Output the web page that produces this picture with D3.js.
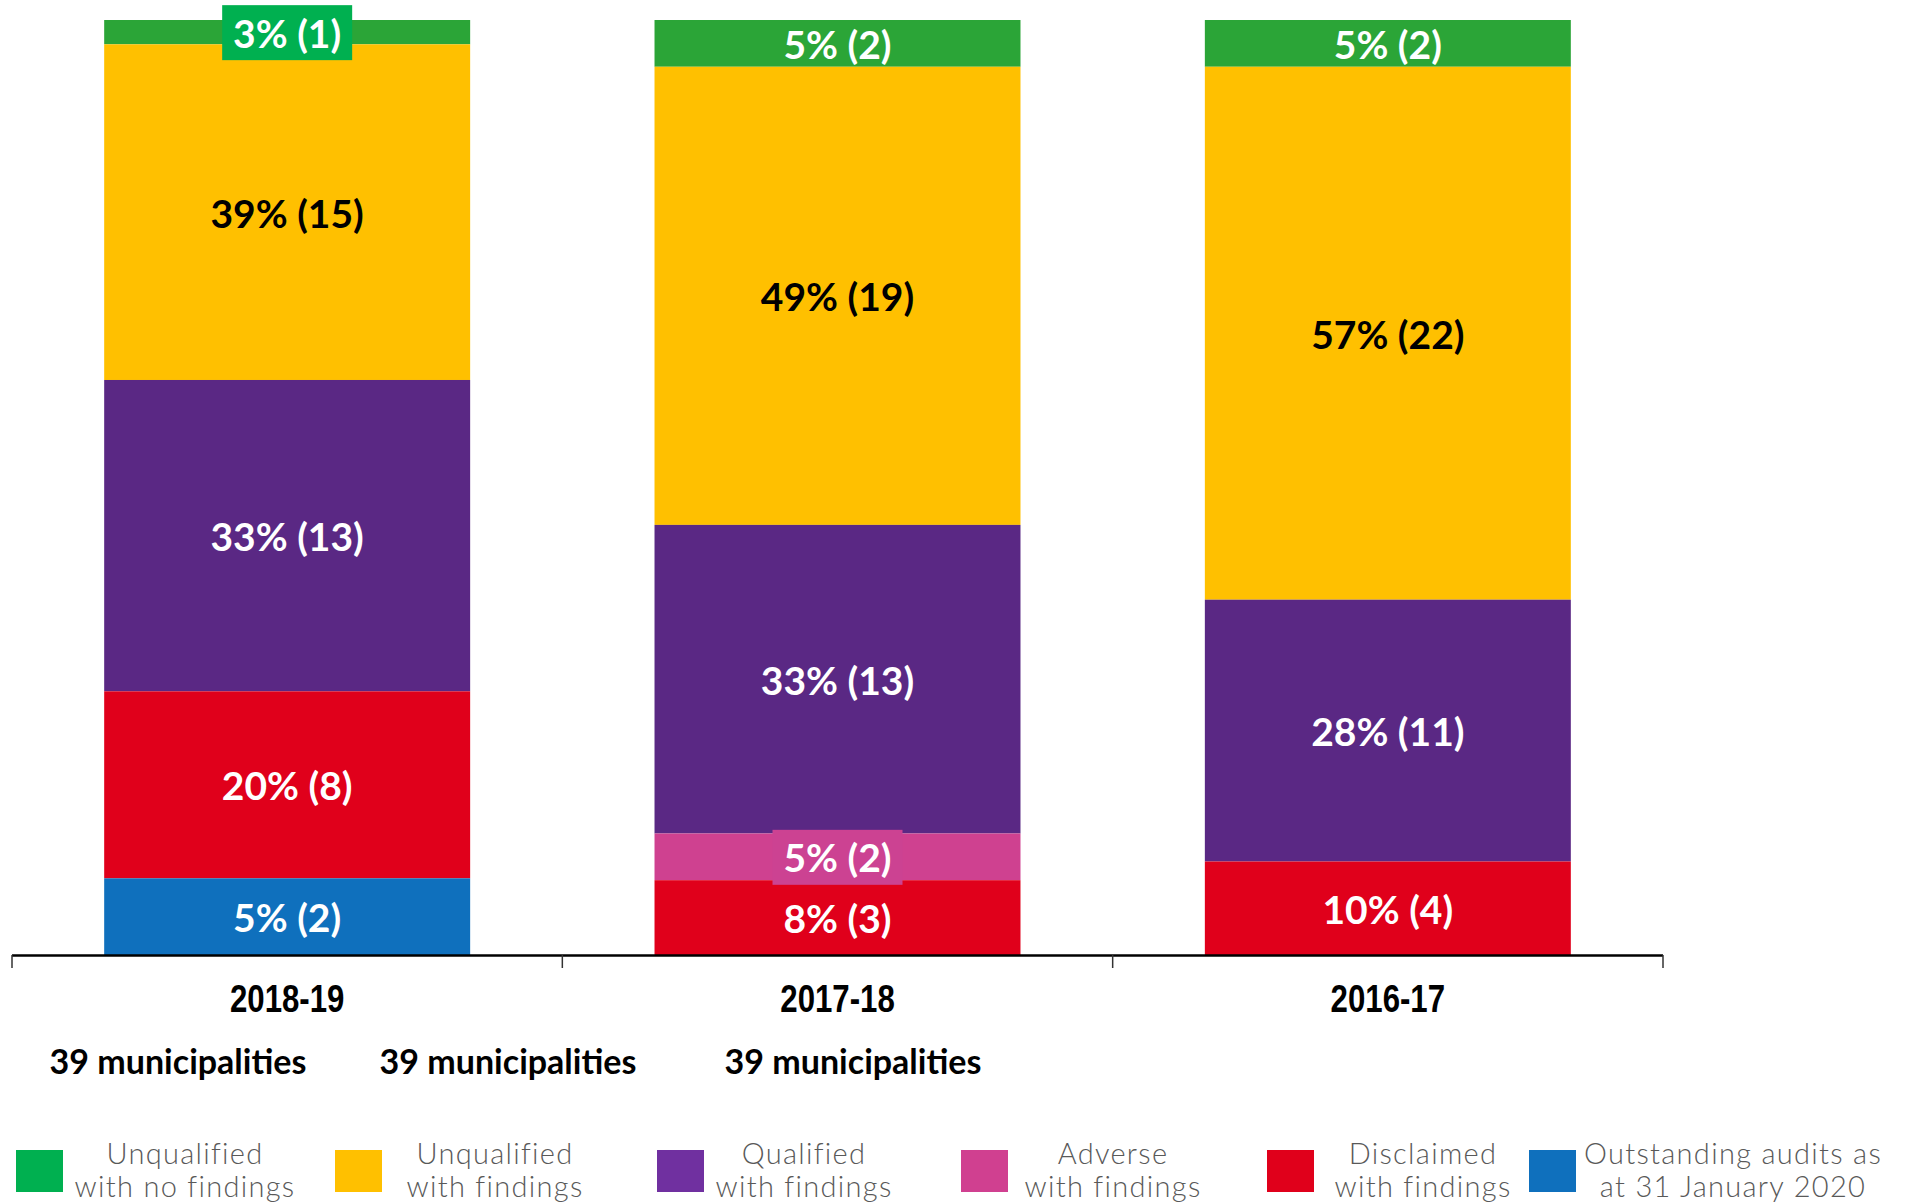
<!DOCTYPE html>
<html>
<head>
<meta charset="utf-8">
<script src="https://cdn.jsdelivr.net/npm/d3@7"></script>
<style>
body{margin:0;background:#fff;}
svg{display:block;}
</style>
</head>
<body>
<svg id="chart" width="1910" height="1204"></svg>
<script>
// data
var years = ["2018-19","2017-18","2016-17"];
var outcomes = ["Unqualified with no findings","Unqualified with findings","Qualified with findings","Adverse with findings","Disclaimed with findings","Outstanding audits as at 31 January 2020"];
var legendLines = [["Unqualified","with no findings"],["Unqualified","with findings"],["Qualified","with findings"],["Adverse","with findings"],["Disclaimed","with findings"],["Outstanding audits as","at 31 January 2020"]];
// share of bar height (%) per outcome, one array per year
var share1819 = [2.6, 35.9, 33.3, 0, 20.0, 8.2];
var share1718 = [5, 49, 33, 5, 8, 0];
var share1617 = [5, 57, 28, 0, 10, 0];
var label1819 = ["3% (1)","39% (15)","33% (13)","","20% (8)","5% (2)"];
var label1718 = ["5% (2)","49% (19)","33% (13)","5% (2)","8% (3)",""];
var label1617 = ["5% (2)","57% (22)","28% (11)","","10% (4)",""];
var municipalities = ["39 municipalities","39 municipalities","39 municipalities"];
// labels that sit on a small box
var boxed = [["2018-19",0],["2017-18",3]];

var barColors = ["#2ba537","#ffc000","#5a2884","#cf4190","#e0001b","#0f70bd"];
var keyColors = ["#00b050","#ffc000","#7030a0","#d04090","#e0001b","#0f70bd"];
var boxColors = ["#00b050","#ffc000","#5a2884","#cc4292","#e0001b","#0f70bd"];

var svg = d3.select("#chart");
var shares = [share1819, share1718, share1617];
var labels = [label1819, label1718, label1617];

var rows = years.map(function(y,i){
  var r = {year:y};
  outcomes.forEach(function(o,j){ r[o] = shares[i][j]; });
  return r;
});
// first outcome sits on top, last one at the bottom
var stack = d3.stack().keys(outcomes).order(d3.stackOrderReverse)(rows);

var x = d3.scaleBand().domain(years).range([12,1663]).paddingInner(0.335).paddingOuter(0.1675);
var y = d3.scaleLinear().domain([0,100]).range([955,20]);

var layer = svg.selectAll("g.layer").data(stack).enter()
  .append("g").attr("class","layer")
  .attr("fill",function(d){return barColors[outcomes.indexOf(d.key)];});

layer.selectAll("rect").data(function(d){return d;}).enter()
  .append("rect")
  .attr("x",function(d){return x(d.data.year);})
  .attr("width",x.bandwidth())
  .attr("y",function(d){return y(d[1]);})
  .attr("height",function(d){return y(d[0])-y(d[1]);});

// labels
var g = svg.append("g");
stack.forEach(function(s){
  var j = outcomes.indexOf(s.key);
  s.forEach(function(d,i){
    var txt = labels[i][j];
    if(!txt) return;
    var cx = x(d.data.year)+x.bandwidth()/2;
    var cy = (y(d[0])+y(d[1]))/2;
    var isBoxed = boxed.some(function(b){return b[0]==d.data.year && b[1]==j;});
    if(isBoxed){
      g.append("rect").attr("x",cx-65).attr("y",cy-27).attr("width",130).attr("height",55)
        .attr("fill",boxColors[j]);
    }
    g.append("text").attr("x",cx).attr("y",cy).attr("dy","0.4em")
      .attr("text-anchor","middle")
      .style("font-family","Lato, sans-serif").style("font-weight","bold")
      .style("font-size","39px")
      .attr("fill", j==1 ? "#000" : "#fff")
      .text(txt);
  });
});

// axis: line with ticks between categories
var step = x.step(), half = step*x.paddingInner()/2;
var bounds = years.map(function(d){return x(d)-half;});
bounds.push(x(years[years.length-1])+x.bandwidth()+half);
svg.append("line").attr("x1",bounds[0]).attr("x2",bounds[bounds.length-1])
  .attr("y1",955.5).attr("y2",955.5).attr("stroke","#000").attr("stroke-width",2.5);
svg.selectAll("line.tick").data(bounds).enter().append("line").attr("class","tick")
  .attr("x1",function(d){return d;}).attr("x2",function(d){return d;})
  .attr("y1",955).attr("y2",968).attr("stroke","#333").attr("stroke-width",1.5);

svg.selectAll("text.year").data(years).enter().append("text").attr("class","year")
  .attr("transform",function(d){return "translate("+(x(d)+x.bandwidth()/2)+",1012) scale(0.8,1)";})
  .attr("text-anchor","middle")
  .style("font-family","'Liberation Sans', Arial, sans-serif")
  .style("font-weight","bold").style("font-size","39px").attr("fill","#000")
  .text(function(d){return d;});

var muniX = [178,508,853];
svg.selectAll("text.muni").data(municipalities).enter().append("text").attr("class","muni")
  .attr("x",function(d,i){return muniX[i];}).attr("y",1074)
  .attr("text-anchor","middle")
  .style("font-family","Lato, sans-serif").style("font-weight","bold").style("font-size","34px")
  .attr("fill","#000")
  .text(function(d){return d;});

// legend
var keyX = [16,335,657,961,1267,1529];
var keyTextX = [185,495,804,1113,1423,1733];
var legend = svg.selectAll("g.key").data(outcomes).enter().append("g").attr("class","key");
legend.append("rect")
  .attr("x",function(d,i){return keyX[i];}).attr("y",1150)
  .attr("width",47).attr("height",42)
  .attr("fill",function(d,i){return keyColors[i];});
legend.append("text")
  .attr("x",function(d,i){return keyTextX[i];}).attr("y",1164)
  .attr("text-anchor","middle")
  .style("font-family","Lato, sans-serif").style("font-weight","300").style("font-size","29px")
  .style("letter-spacing","1.3px")
  .attr("fill","#595959")
  .selectAll("tspan").data(function(d,i){return legendLines[i];}).enter().append("tspan")
  .attr("x",function(){return d3.select(this.parentNode).attr("x");})
  .attr("dy",function(d,k){return k==0?0:33;})
  .text(function(d){return d;});
</script>
</body>
</html>
